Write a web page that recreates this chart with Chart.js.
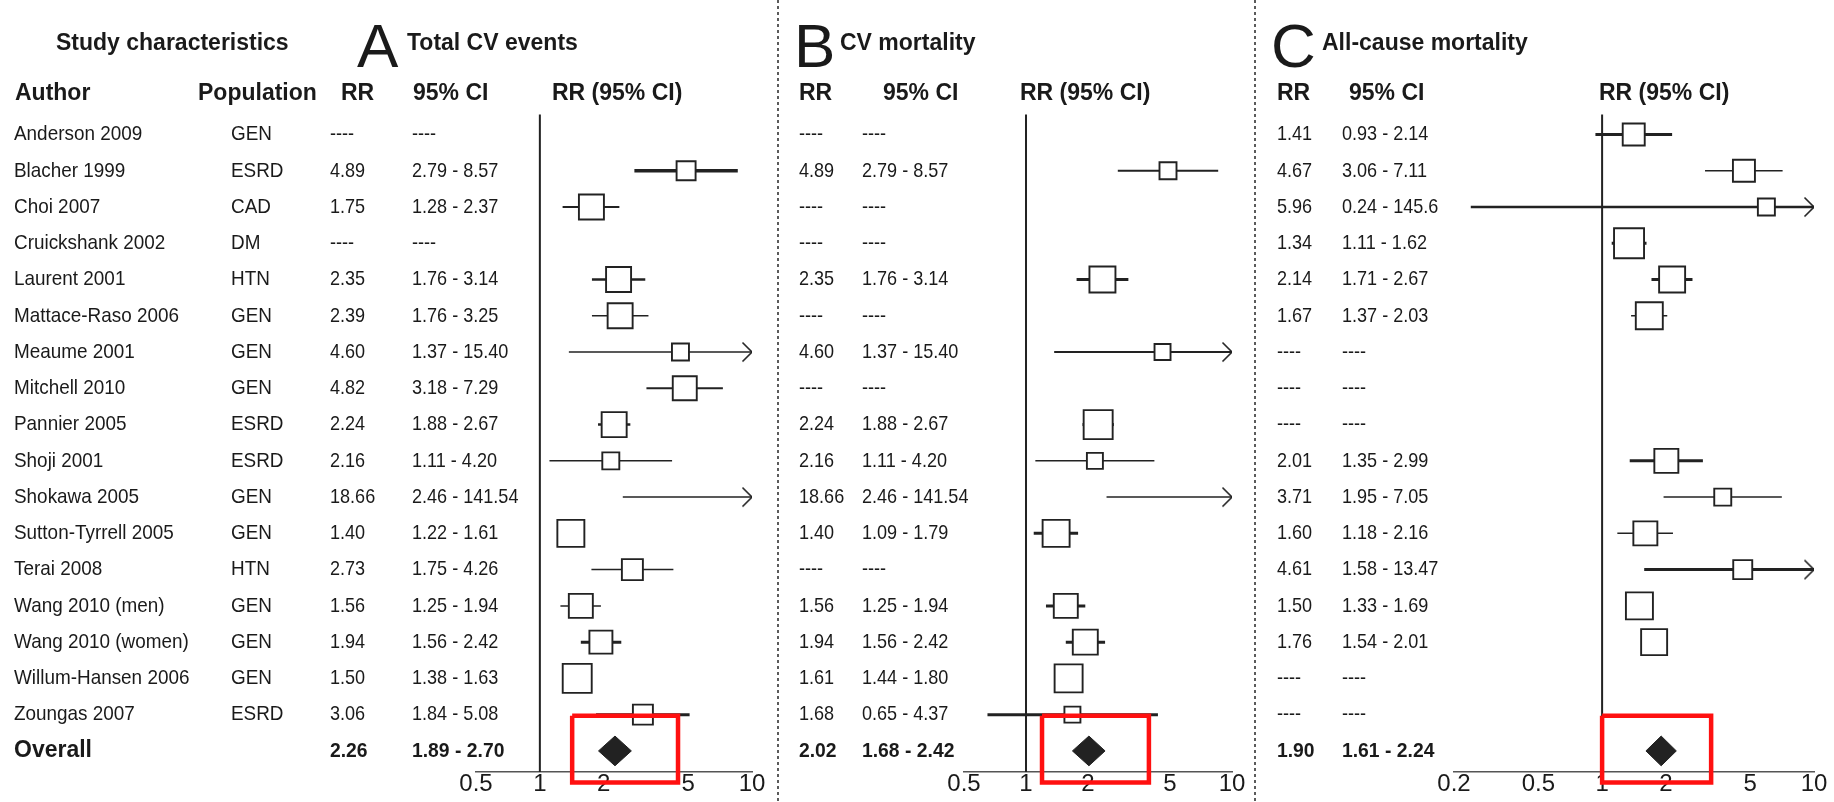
<!DOCTYPE html>
<html>
<head>
<meta charset="utf-8">
<script src="https://cdn.jsdelivr.net/npm/chart.js"></script>
<style>
  html, body { margin: 0; padding: 0; background: #fff; overflow: hidden; }
  canvas { display: block; }
</style>
</head>
<body>
<canvas id="forest" width="1834" height="802"></canvas>
<script>
const authors = ["Anderson 2009", "Blacher 1999", "Choi 2007", "Cruickshank 2002", "Laurent 2001",
  "Mattace-Raso 2006", "Meaume 2001", "Mitchell 2010", "Pannier 2005", "Shoji 2001", "Shokawa 2005",
  "Sutton-Tyrrell 2005", "Terai 2008", "Wang 2010 (men)", "Wang 2010 (women)", "Willum-Hansen 2006", "Zoungas 2007"];
const populations = ["GEN", "ESRD", "CAD", "DM", "HTN", "GEN", "GEN", "GEN", "ESRD", "ESRD", "GEN",
  "GEN", "HTN", "GEN", "GEN", "GEN", "ESRD"];

// A - total CV events
const rrA = [null, 4.89, 1.75, null, 2.35, 2.39, 4.60, 4.82, 2.24, 2.16, 18.66, 1.40, 2.73, 1.56, 1.94, 1.50, 3.06];
const loA = [null, 2.79, 1.28, null, 1.76, 1.76, 1.37, 3.18, 1.88, 1.11, 2.46, 1.22, 1.75, 1.25, 1.56, 1.38, 1.84];
const hiA = [null, 8.57, 2.37, null, 3.14, 3.25, 15.40, 7.29, 2.67, 4.20, 141.54, 1.61, 4.26, 1.94, 2.42, 1.63, 5.08];
const overallA = [2.26, 1.89, 2.70];

// B - CV mortality
const rrB = [null, 4.89, null, null, 2.35, null, 4.60, null, 2.24, 2.16, 18.66, 1.40, null, 1.56, 1.94, 1.61, 1.68];
const loB = [null, 2.79, null, null, 1.76, null, 1.37, null, 1.88, 1.11, 2.46, 1.09, null, 1.25, 1.56, 1.44, 0.65];
const hiB = [null, 8.57, null, null, 3.14, null, 15.40, null, 2.67, 4.20, 141.54, 1.79, null, 1.94, 2.42, 1.80, 4.37];
const overallB = [2.02, 1.68, 2.42];

// C - all-cause mortality
const rrC = [1.41, 4.67, 5.96, 1.34, 2.14, 1.67, null, null, null, 2.01, 3.71, 1.60, 4.61, 1.50, 1.76, null, null];
const loC = [0.93, 3.06, 0.24, 1.11, 1.71, 1.37, null, null, null, 1.35, 1.95, 1.18, 1.58, 1.33, 1.54, null, null];
const hiC = [2.14, 7.11, 145.6, 1.62, 2.67, 2.03, null, null, null, 2.99, 7.05, 2.16, 13.47, 1.69, 2.01, null, null];
const overallC = [1.90, 1.61, 2.24];

const ticksAB = [0.5, 1, 2, 5, 10];
const ticksC = [0.2, 0.5, 1, 2, 5, 10];

// marker look (box side in px, CI line width)
const boxA = [0, 19, 25, 0, 25, 25, 17, 24, 25, 17, 17, 27, 21, 24, 23, 29, 20];
const penA = [0, 3.5, 2, 0, 2.5, 1.5, 1.5, 2, 2.5, 1.5, 1.5, 2, 1.5, 1.5, 3, 2, 3];
const boxB = [0, 17, 0, 0, 26, 0, 16, 0, 29, 16, 17, 27, 0, 24, 25, 28, 16];
const penB = [0, 2, 0, 0, 3, 0, 2, 0, 3, 1.5, 1.5, 3, 0, 3, 3, 2, 3];
const boxC = [22, 22, 17, 30, 26, 27, 0, 0, 0, 24, 17, 24, 19, 27, 26, 0, 0];
const penC = [3, 1.5, 2.5, 3, 3, 1.5, 0, 0, 0, 3, 1.5, 1.5, 3, 2, 2, 0, 0];

const INK = "#222";
const MISSING = "----";
const AXIS_Y = 772;        // pixel row of the x axes
const ROW0 = 134.5, ROW_STEP = 36.26;
const OVERALL_ROW = authors.length;
const DIAMOND_HALF = 0.41; // rows
const REF_TOP = -0.55;

const panels = [
  { id: "xA", letter: "A", title: "Total CV events", rr: rrA, lo: loA, hi: hiA, overall: overallA,
    ticks: ticksAB, box: boxA, pen: penA, highlight: [1.42, 4.48],
    axis: [476, 752], letterX: 357, titleX: 407, rrX: 330, ciX: 412, hRR: 341, hCI: 413, hPlot: 552 },
  { id: "xB", letter: "B", title: "CV mortality", rr: rrB, lo: loB, hi: hiB, overall: overallB,
    ticks: ticksAB, box: boxB, pen: penB, highlight: [1.196, 3.95],
    axis: [964, 1232], letterX: 794, titleX: 840, rrX: 799, ciX: 862, hRR: 799, hCI: 883, hPlot: 1020 },
  { id: "xC", letter: "C", title: "All-cause mortality", rr: rrC, lo: loC, hi: hiC, overall: overallC,
    ticks: ticksC, box: boxC, pen: penC, highlight: [1.0, 3.27],
    axis: [1454, 1814], letterX: 1271, titleX: 1322, rrX: 1277, ciX: 1342, hRR: 1277, hCI: 1349, hPlot: 1599 }
];
const highlightRows = [16.03, 17.87];

const fmt = (v) => (v >= 100 && v === Math.round(v * 10) / 10 ? v.toFixed(1) : v.toFixed(2));

const SANS = '"Liberation Sans", Arial, sans-serif';
const headFont = "bold 23px " + SANS;
const nameFont = "21px " + SANS;
const numFont = "21px " + SANS;

// the printed table uses a slightly condensed face
function squeezeText(ctx, str, x, y, squeeze) {
  const w = ctx.measureText(str).width;
  ctx.fillText(str, x, y, w * squeeze);
}

// open arrow head used where the CI runs past the axis
const arrowHead = document.createElement("canvas");
arrowHead.width = 24;
arrowHead.height = 24;
(() => {
  const g = arrowHead.getContext("2d");
  g.strokeStyle = INK;
  g.lineWidth = 1.6;
  g.beginPath();
  g.moveTo(2.5, 2.5);
  g.lineTo(12, 12);
  g.lineTo(2.5, 21.5);
  g.stroke();
})();

const datasets = [];
panels.forEach((p) => {
  const axisMax = p.ticks[p.ticks.length - 1];
  const rows = authors.map((_, i) => i).filter((i) => p.rr[i] !== null);

  // squares
  const shown = rows.filter((i) => p.rr[i] <= axisMax);
  datasets.push({
    type: "scatter", xAxisID: p.id, yAxisID: "y", order: 1,
    data: shown.map((i) => ({ x: p.rr[i], y: i })),
    pointStyle: "rect",
    pointRadius: shown.map((i) => p.box[i] / Math.SQRT2),
    pointBackgroundColor: "#fff", pointBorderColor: INK, pointBorderWidth: 1.9,
    pointHoverRadius: 0
  });

  // CI lines
  rows.forEach((i) => {
    const cut = p.hi[i] > axisMax;
    datasets.push({
      type: "line", xAxisID: p.id, yAxisID: "y", order: 2,
      data: [{ x: p.lo[i], y: i }, { x: Math.min(p.hi[i], axisMax), y: i }],
      borderColor: INK, borderWidth: p.pen[i],
      pointRadius: [0, cut ? 6 : 0],
      pointStyle: ["circle", cut ? arrowHead : "circle"],
      pointBorderWidth: 0
    });
  });

  // line of no effect
  datasets.push({
    type: "line", xAxisID: p.id, yAxisID: "y", order: 3,
    data: [{ x: 1, y: REF_TOP }, { x: 1, y: (AXIS_Y - ROW0) / ROW_STEP }],
    borderColor: INK, borderWidth: 2, pointRadius: 0
  });

  // pooled estimate diamond
  const [or, ol, oh] = p.overall;
  datasets.push({
    type: "line", xAxisID: p.id, yAxisID: "y", order: 1,
    data: [
      { x: ol, y: OVERALL_ROW }, { x: or, y: OVERALL_ROW - DIAMOND_HALF },
      { x: oh, y: OVERALL_ROW }, { x: or, y: OVERALL_ROW + DIAMOND_HALF }, { x: ol, y: OVERALL_ROW }
    ],
    borderColor: INK, backgroundColor: INK, borderWidth: 1, fill: "shape", pointRadius: 0
  });

  // red highlight frame
  const [h0, h1] = p.highlight;
  const [r0, r1] = highlightRows;
  datasets.push({
    type: "line", xAxisID: p.id, yAxisID: "y", order: 0,
    data: [{ x: h0, y: r0 }, { x: h1, y: r0 }, { x: h1, y: r1 }, { x: h0, y: r1 }, { x: h0, y: r0 }],
    borderColor: "#ff1010", borderWidth: 4.5, pointRadius: 0, fill: false, borderJoinStyle: "miter"
  });
});

const scales = {
  y: {
    type: "linear", display: false, reverse: true,
    min: -ROW0 / ROW_STEP, max: (802 - ROW0) / ROW_STEP
  }
};
panels.forEach((p) => {
  scales[p.id] = {
    type: "logarithmic", position: "bottom",
    min: p.ticks[0], max: p.ticks[p.ticks.length - 1],
    grid: { display: false, drawTicks: false },
    border: { display: true, color: "#555", width: 1.5 },
    afterBuildTicks: (s) => { s.ticks = p.ticks.map((v) => ({ value: v })); },
    ticks: {
      autoSkip: false, maxRotation: 0, padding: -2, color: "#1a1a1a",
      font: { family: SANS, size: 24 },
      callback: (v) => String(v)
    }
  };
});

// put each x axis under its own panel, the y scale over the full height
const panelLayout = {
  id: "panelLayout",
  afterLayout(chart) {
    const W = chart.width, H = chart.height;
    const ys = chart.scales.y;
    Object.assign(ys, { left: 0, right: 0, width: 0, top: 0, bottom: H, height: H });
    ys.configure();
    panels.forEach((p) => {
      const s = chart.scales[p.id];
      Object.assign(s, { left: p.axis[0], right: p.axis[1], width: p.axis[1] - p.axis[0],
        top: AXIS_Y, bottom: H, height: H - AXIS_Y });
      s.configure();
    });
    chart.chartArea = { left: 0, top: 0, right: W, bottom: H, width: W, height: H };
  }
};

const separators = {
  id: "separators",
  beforeDatasetsDraw(chart) {
    const ctx = chart.ctx;
    ctx.save();
    ctx.strokeStyle = "#333";
    ctx.lineWidth = 1.6;
    ctx.setLineDash([3, 3]);
    [778, 1255].forEach((x) => {
      ctx.beginPath();
      ctx.moveTo(x, 0);
      ctx.lineTo(x, chart.height);
      ctx.stroke();
    });
    ctx.restore();
  }
};

const tableText = {
  id: "tableText",
  afterDraw(chart) {
    const ctx = chart.ctx;
    const y = chart.scales.y;
    ctx.save();
    ctx.fillStyle = "#1a1a1a";
    ctx.textAlign = "left";

    // titles
    ctx.textBaseline = "alphabetic";
    ctx.font = headFont;
    ctx.fillText("Study characteristics", 56, 50);
    panels.forEach((p) => {
      ctx.font = "62px " + SANS;
      ctx.fillText(p.letter, p.letterX, 67);
      ctx.font = headFont;
      ctx.fillText(p.title, p.titleX, 50);
    });

    // column headers
    ctx.fillText("Author", 15, 100);
    ctx.fillText("Population", 198, 100);
    panels.forEach((p) => {
      ctx.fillText("RR", p.hRR, 100);
      ctx.fillText("95% CI", p.hCI, 100);
      ctx.fillText("RR (95% CI)", p.hPlot, 100);
    });

    // study rows
    ctx.textBaseline = "middle";
    authors.forEach((name, i) => {
      const py = y.getPixelForValue(i);
      ctx.font = nameFont;
      squeezeText(ctx, name, 14, py, 0.9);
      squeezeText(ctx, populations[i], 231, py, 0.9);
      ctx.font = numFont;
      panels.forEach((p) => {
        const has = p.rr[i] !== null;
        squeezeText(ctx, has ? fmt(p.rr[i]) : MISSING, p.rrX, py, 0.86);
        squeezeText(ctx, has ? fmt(p.lo[i]) + " - " + fmt(p.hi[i]) : MISSING, p.ciX, py, 0.86);
      });
    });

    // pooled row
    const oy = y.getPixelForValue(OVERALL_ROW);
    ctx.font = "bold 23px " + SANS;
    ctx.fillText("Overall", 14, oy);
    ctx.font = "bold 21px " + SANS;
    panels.forEach((p) => {
      const [or, ol, oh] = p.overall;
      squeezeText(ctx, fmt(or), p.rrX, oy, 0.92);
      squeezeText(ctx, fmt(ol) + " - " + fmt(oh), p.ciX, oy, 0.92);
    });
    ctx.restore();
  }
};

new Chart(document.getElementById("forest"), {
  type: "scatter",
  data: { datasets },
  options: {
    responsive: false,
    animation: false,
    devicePixelRatio: 1,
    layout: { padding: 0 },
    events: [],
    plugins: { legend: { display: false }, tooltip: { enabled: false } },
    scales
  },
  plugins: [panelLayout, separators, tableText]
});
</script>
</body>
</html>
